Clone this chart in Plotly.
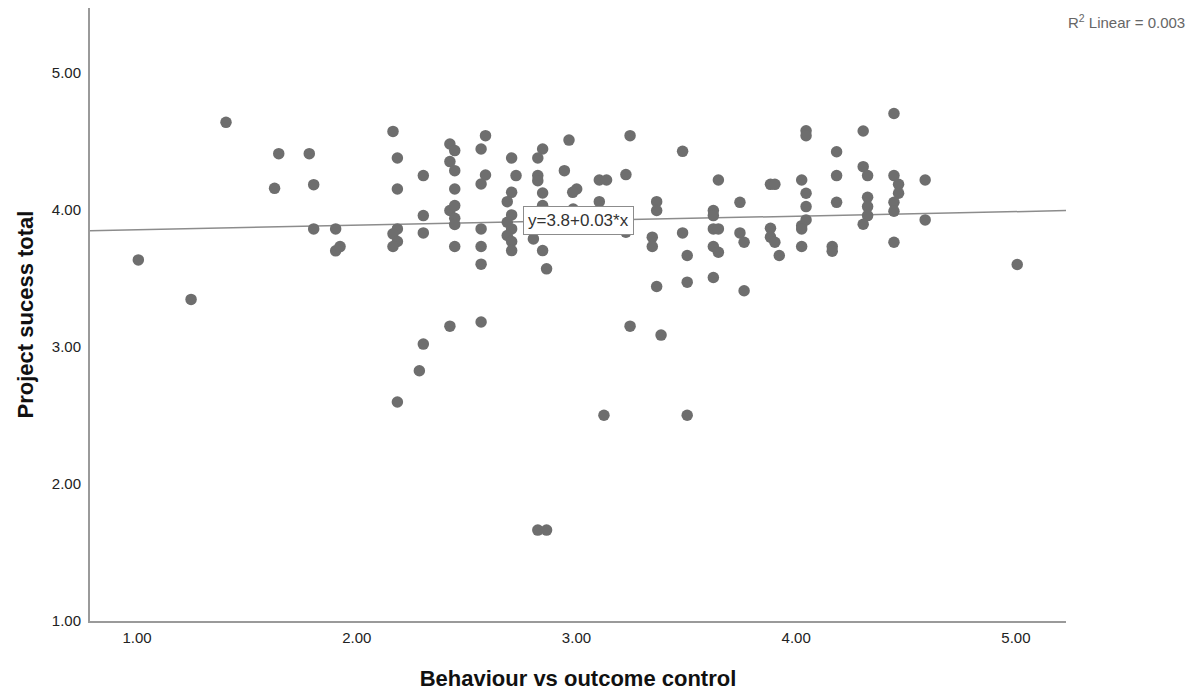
import plotly.graph_objects as go

# Behaviour vs outcome control (x) and Project success total (y)
behaviour = [
    1.006, 1.246, 1.405, 1.645, 1.626, 1.784, 1.804, 1.804, 1.904, 1.904, 1.924,
    2.165, 2.185, 2.185, 2.185, 2.165, 2.185, 2.165, 2.185,
    2.303, 2.303, 2.303, 2.303, 2.285,
    2.424, 2.446, 2.424, 2.446, 2.446, 2.424, 2.446, 2.446, 2.446, 2.446, 2.424,
    2.586, 2.566, 2.586, 2.566, 2.566, 2.566, 2.566, 2.566,
    2.705, 2.725, 2.705, 2.685, 2.705, 2.685, 2.705, 2.685, 2.705, 2.705,
    2.846, 2.824, 2.824, 2.824, 2.846, 2.846, 2.804, 2.846, 2.864, 2.824, 2.864,
    2.966, 2.945, 3.001, 2.983, 2.985,
    3.104, 3.137, 3.104, 3.125,
    3.244, 3.225, 3.225, 3.244,
    3.365, 3.365, 3.345, 3.345, 3.365, 3.385,
    3.483, 3.483, 3.504, 3.504, 3.504,
    3.646, 3.623, 3.623, 3.623, 3.646, 3.623, 3.646, 3.623,
    3.744, 3.744, 3.763, 3.763,
    3.883, 3.903, 3.883, 3.883, 3.903, 3.923,
    4.025, 4.045, 4.045, 4.045, 4.025, 4.025, 4.025, 4.045, 4.045,
    4.184, 4.184, 4.184, 4.164, 4.164,
    4.305, 4.305, 4.325, 4.325, 4.325, 4.325, 4.305,
    4.445, 4.445, 4.466, 4.466, 4.445, 4.445, 4.445,
    4.587, 4.587,
    5.006,
]
success = [
    3.633, 3.345, 4.636, 4.408, 4.155, 4.408, 4.182, 3.859, 3.859, 3.699, 3.730,
    4.570, 4.376, 4.150, 3.859, 3.823, 3.767, 3.731, 2.597,
    4.248, 3.956, 3.830, 3.019, 2.825,
    4.478, 4.430, 4.350, 4.284, 4.150, 3.993, 4.029, 3.937, 3.891, 3.731, 3.150,
    4.539, 4.442, 4.252, 4.187, 3.859, 3.731, 3.602, 3.180,
    4.376, 4.248, 4.126, 4.058, 3.961, 3.908, 3.859, 3.811, 3.767, 3.701,
    4.442, 4.376, 4.248, 4.211, 4.121, 4.029, 3.786, 3.701, 3.568, 1.663, 1.663,
    4.507, 4.284, 4.150, 4.126, 4.004,
    4.216, 4.216, 4.058, 2.500,
    4.539, 4.255, 3.835, 3.150,
    4.058, 3.993, 3.799, 3.731, 3.439, 3.085,
    4.425, 3.830, 3.665, 3.471, 2.500,
    4.216, 3.993, 3.956, 3.859, 3.859, 3.731, 3.689, 3.505,
    4.053, 3.830, 3.762, 3.408,
    4.184, 4.184, 3.864, 3.799, 3.762, 3.665,
    4.216, 4.119, 4.022, 3.925, 3.883, 3.859, 3.731, 4.575, 4.539,
    4.422, 4.248, 4.053, 3.731, 3.697,
    4.573, 4.313, 4.248, 4.090, 4.022, 3.956, 3.893,
    4.701, 4.248, 4.184, 4.119, 4.053, 3.988, 3.762,
    4.216, 3.925,
    3.600,
]

# Fit line as drawn (intercept, slope) and its labels
fit_intercept = 3.82
fit_slope = 0.033
fit_label = "y=3.8+0.03*x"
r2_label = "R<sup>2</sup> Linear = 0.003"

x_range = [0.786, 5.228]
y_range = [1.0, 5.47]
tick_vals = [1, 2, 3, 4, 5]

FONT = "Liberation Sans, Arial, sans-serif"

fig = go.Figure()

fig.add_trace(go.Scatter(
    x=x_range,
    y=[fit_intercept + fit_slope * v for v in x_range],
    mode="lines",
    line=dict(color="#8c8c8c", width=1.5),
    hoverinfo="skip",
    showlegend=False,
))

fig.add_trace(go.Scatter(
    x=behaviour, y=success,
    mode="markers",
    marker=dict(color="#6e6e6e", size=11.5, line=dict(width=0)),
    showlegend=False,
))

label_x = 3.007
fig.add_annotation(
    x=label_x, y=fit_intercept + fit_slope * label_x,
    xref="x", yref="y",
    text=fit_label, showarrow=False,
    font=dict(family=FONT, size=17, color="#333333"),
    bgcolor="white", bordercolor="#8c8c8c", borderwidth=1, borderpad=4,
)

fig.add_annotation(
    x=1.124, y=0.978, xref="paper", yref="paper",
    xanchor="right", yanchor="middle",
    text=r2_label, showarrow=False,
    font=dict(family=FONT, size=15, color="#666666"),
)

# The page puts the figure 8px in from the top-left corner, so the
# figure is sized and margined to keep the plot where the reference has it.
fig.update_layout(
    width=1187, height=685,
    margin=dict(l=82, r=129, t=0, b=72, autoexpand=False),
    paper_bgcolor="white", plot_bgcolor="white",
    font=dict(family=FONT, color="#222222"),
    showlegend=False,
)

fig.update_xaxes(
    range=x_range, tickvals=tick_vals, tickformat=".2f",
    showgrid=False, zeroline=False,
    showline=True, linecolor="#9a9a9a", linewidth=2,
    ticks="", ticklabelstandoff=2,
    tickfont=dict(family=FONT, size=15, color="#222222"),
    title=dict(text="<b>Behaviour vs outcome control</b>",
               font=dict(family=FONT, size=22, color="#111111"), standoff=26),
)
fig.update_yaxes(
    range=y_range, tickvals=tick_vals, tickformat=".2f",
    showgrid=False, zeroline=False,
    showline=True, linecolor="#9a9a9a", linewidth=2,
    ticks="", ticklabelstandoff=4,
    tickfont=dict(family=FONT, size=15, color="#222222"),
    title=dict(text="<b>Project sucess total</b>",
               font=dict(family=FONT, size=22, color="#111111"), standoff=12),
)

fig.write_html("out.html")
